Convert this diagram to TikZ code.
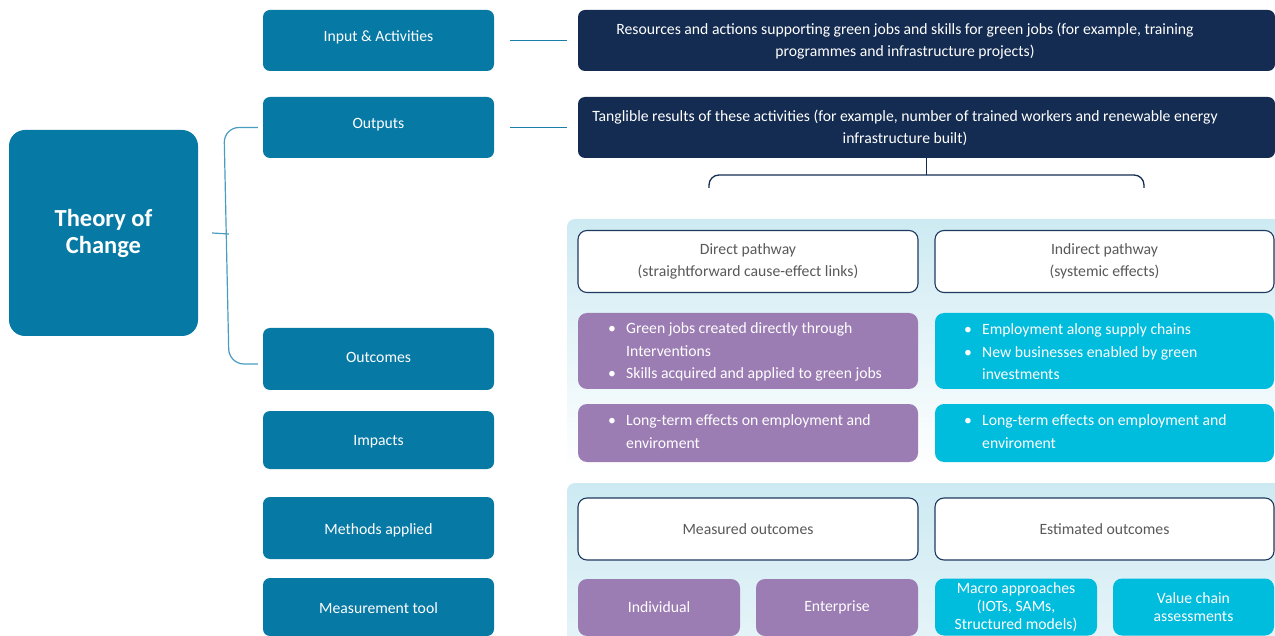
\documentclass[tikz,border=0pt]{standalone}
\usepackage{fontspec}
\setmainfont{Carlito}
\definecolor{tealbox}{HTML}{0779A5}
\definecolor{navybox}{HTML}{142C51}
\definecolor{purplebox}{HTML}{9B7CB3}
\definecolor{cyanbox}{HTML}{00BCDD}
\definecolor{outline}{HTML}{1F3A5F}
\definecolor{graytext}{HTML}{595959}
\definecolor{panelc}{HTML}{CDEAF2}
\definecolor{panelend}{HTML}{E8F5F9}
\definecolor{connteal}{HTML}{1A7FA8}
\definecolor{connlight}{HTML}{4A9CC0}
\newcommand{\bul}{\makebox[18pt][l]{\textbullet}}
\newcommand{\ind}{\hspace*{18pt}}
\begin{document}
\begin{tikzpicture}[x=1pt,y=-1pt,
  basefont/.style={font=\fontsize{15.7}{22.5}\selectfont},
  sidebox/.style={basefont, fill=tealbox, text=white, rounded corners=7pt,
    inner sep=0pt, minimum width=231pt, align=center,
    text height=11pt, text depth=3.5pt},
  titlebox/.style={fill=tealbox, text=white, rounded corners=16pt, inner sep=0pt,
    minimum width=189pt, minimum height=206pt, align=center,
    font=\fontsize{24.5}{27}\selectfont\bfseries},
  navy/.style={fill=navybox, rounded corners=7pt, inner sep=0pt,
    minimum width=697pt, minimum height=61pt},
  navytext/.style={basefont, text=white, align=center, inner sep=0pt},
  wbox/.style={basefont, draw=outline, line width=1.1pt, fill=white, text=graytext,
    rounded corners=9pt, inner sep=0pt, minimum height=62pt, align=center},
  pbox/.style={basefont, fill=purplebox, text=white, rounded corners=9pt,
    inner sep=0pt, align=center},
  cbox/.style={basefont, fill=cyanbox, text=white, rounded corners=9pt,
    inner sep=0pt, align=center},
  tight/.style={font=\fontsize{15.7}{18}\selectfont},
  bullets/.style={basefont, text=white, align=left, inner sep=0pt, anchor=west},
  conn/.style={draw=connteal, line width=1.5pt},
  conn2/.style={draw=connlight, line width=1.2pt},
  brk/.style={draw=navybox, line width=1.3pt}
]
\useasboundingbox (0,0) rectangle (1275,636);

% shaded backgrounds behind the pathway and method rows
\shade[top color=panelc, bottom color=white, rounded corners=8pt]
  (567,219) rectangle (1295,470);
\shade[top color=panelc, bottom color=panelend, rounded corners=8pt]
  (567,483) rectangle (1295,660);

% title block
\node[titlebox] (toc) at (103.5,233) {Theory of\\Change};

% stage column
\node[sidebox, minimum height=61pt, text depth=9.5pt] (inp)  at (378.5,40.5) {Input \& Activities};
\node[sidebox, minimum height=61pt, text depth=9.5pt] (outp) at (378.5,127.5) {Outputs};
\node[sidebox, minimum height=62pt] (outc) at (378.5,359) {Outcomes};
\node[sidebox, minimum height=58pt, text height=13.5pt] (imp)  at (378.5,440) {Impacts};
\node[sidebox, minimum height=62pt, text height=15.5pt] (meth) at (378.5,528) {Methods applied};
\node[sidebox, minimum height=58pt, text height=15.5pt] (meas) at (378.5,607) {Measurement tool};

% descriptions of inputs and outputs
\node[navy] (inbox)  at (926.5,40.5) {};
\node[navytext] (intext) at (905,41)
  {Resources and actions supporting green jobs and skills for green jobs (for example, training\\programmes and infrastructure projects)};
\node[navy] (outbox) at (926.5,127.5) {};
\node[navytext] (outtext) at (905,128)
  {Tanglible results of these activities (for example, number of trained workers and renewable energy\\infrastructure built)};

% connectors
\draw[conn] ([xshift=16pt]inp.east) -- ([xshift=-11pt]inbox.west);
\draw[conn] ([xshift=16pt]outp.east) -- ([xshift=-11pt]outbox.west);
\coordinate (fork) at (229,234);
\draw[conn2] ([xshift=14pt]toc.east) -- (fork);
\draw[conn2, rounded corners=15pt]
  ([xshift=-5pt]outp.west) -- ([xshift=-5pt]outp.west -| fork)
  -- ([shift={(0,5)}]outc.west -| fork) -- ([shift={(-5,5)}]outc.west);

% bracket splitting into the two pathways
\coordinate (bl) at (709,188);
\coordinate (br) at (1144,188);
\draw[brk] (outbox.south) -- ++(0,17);
\draw[brk, rounded corners=10pt] (bl) -- (709,175) -- (1144,175) -- (br);

% pathway headers
\node[wbox, minimum width=340pt] (direct) at (748,261.5)
  {Direct pathway\\(straightforward cause-effect links)};
\node[wbox, minimum width=339pt] (indirect) at (1104.5,261.5)
  {Indirect pathway\\(systemic effects)};

% outcomes
\node[pbox, minimum width=340pt, minimum height=76pt] (pout) at (748,351) {};
\node[bullets] (pouttext) at (608,352)
  {\bul Green jobs created directly through\\\ind Interventions\\\bul Skills acquired and applied to green jobs};
\node[cbox, minimum width=339pt, minimum height=76pt] (cout) at (1104.5,351) {};
\node[bullets] (couttext) at (964,352)
  {\bul Employment along supply chains\\\bul New businesses enabled by green\\\ind investments};

% impacts
\node[pbox, minimum width=340pt, minimum height=58pt] (pimp) at (748,433) {};
\node[bullets] (pimptext) at (608,431.5)
  {\bul Long-term effects on employment and\\\ind enviroment};
\node[cbox, minimum width=339pt, minimum height=58pt] (cimp) at (1104.5,433) {};
\node[bullets] (cimptext) at (964,431.5)
  {\bul Long-term effects on employment and\\\ind enviroment};

% methods
\node[wbox, minimum width=340pt] (measured) at (748,529) {Measured outcomes};
\node[wbox, minimum width=339pt] (estimated) at (1104.5,529) {Estimated outcomes};

% measurement tools
\node[pbox, minimum width=162pt, minimum height=57pt] (indiv) at (659,607.5) {Individual};
\node[pbox, minimum width=162pt, minimum height=57pt] (enter) at (837,607.5) {Enterprise};
\node[cbox, tight, minimum width=162pt, minimum height=57pt] (macro) at (1016,607)
  {Macro approaches\\(IOTs, SAMs,\\Structured models)};
\node[cbox, tight, minimum width=161pt, minimum height=57pt] (valuec) at (1193.5,607)
  {Value chain\\assessments};
\end{tikzpicture}
\end{document}
